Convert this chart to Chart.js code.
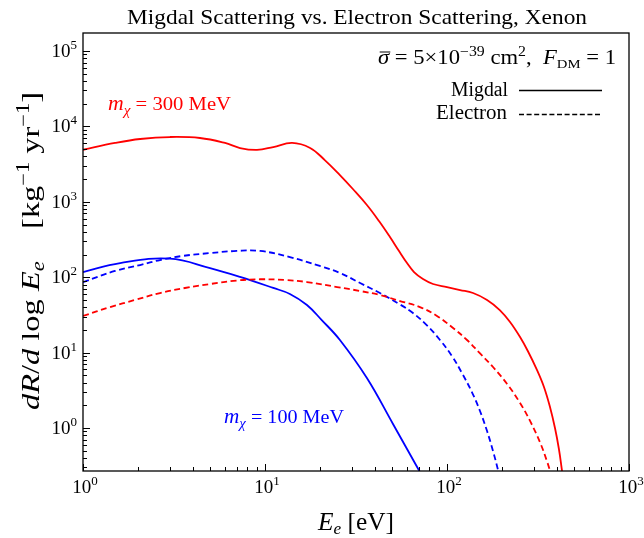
<!DOCTYPE html>
<html>
<head>
<meta charset="utf-8">
<script src="https://cdn.jsdelivr.net/npm/chart.js@4.4.1/dist/chart.umd.min.js"></script>
<style>
  html, body { margin: 0; padding: 0; background: #fff; }
  #wrap { width: 644px; height: 538px; }
</style>
</head>
<body>
<div id="wrap"><canvas id="c" width="644" height="538"></canvas></div>
<script>
// ===== data =====
// m_chi = 300 MeV, Migdal (solid red)
const E_MIG_300 = [1, 1.5, 2.06, 3, 4.39, 6.03, 7.29, 9.04, 11.1, 14.1, 17.7, 21.3, 25.8, 30.4, 36.3, 42.3, 48.6, 54.5, 60.3, 65.9, 73.8, 83.8, 100, 118, 139, 166, 195, 222, 252, 278, 312, 341, 368, 392, 412, 428, 440];
const R_MIG_300 = [4900, 6030, 6810, 7230, 7020, 6030, 5170, 4880, 5330, 6030, 5170, 3580, 2265, 1479, 907, 556, 341, 222, 154, 117, 94.6, 81.3, 74, 67.6, 61.7, 49.9, 36.7, 25.5, 16.1, 10.5, 5.9, 3.5, 1.9, 1.0, 0.527, 0.277, 0.17];

// m_chi = 300 MeV, electron (dashed red)
const E_ELE_300 = [1, 1.41, 1.93, 2.65, 3.63, 5, 7, 9.38, 12.9, 17, 24.9, 33.3, 42.8, 55.2, 71, 88.1, 108, 128.8, 151, 179, 214, 252, 286, 324, 354, 377];
const R_ELE_300 = [30.6, 40.2, 49.9, 61.7, 71.9, 81.3, 90.4, 93.9, 91.8, 86.3, 74.1, 65.6, 58, 48.3, 40.2, 30.6, 21.2, 14.7, 9.9, 6.44, 3.83, 2.15, 1.24, 0.65, 0.365, 0.224];

// m_chi = 100 MeV, Migdal (solid blue)
const E_MIG_100 = [1, 1.6, 3, 4.99, 7.29, 11.1, 13.7, 17, 20.5, 25.8, 36.3, 50.5, 70, 78.6];
const R_MIG_100 = [117, 154, 176, 132, 101, 72, 60, 42.8, 27, 14.7, 4.6, 1.13, 0.277, 0.17];

// m_chi = 100 MeV, electron (dashed blue)
const E_ELE_100 = [1, 1.5, 2.06, 2.65, 3.5, 5, 7, 9.38, 13.7, 20, 25.8, 33.3, 42.8, 55.2, 65, 77.6, 91.5, 106.5, 120.8, 137, 151.8, 166, 179, 190.7, 198];
const R_ELE_100 = [86, 121, 145, 169, 191, 209, 223, 223, 185, 141, 114, 83.7, 61.7, 43.5, 33.5, 23, 14.7, 9.0, 5.36, 3.0, 1.68, 0.91, 0.495, 0.277, 0.187];

const X_MIN = 1, X_MAX = 1000;
const Y_MIN = 0.269, Y_MAX = 1.733e5;
const X_DECADES = [0, 1, 2, 3];
const Y_DECADES = [0, 1, 2, 3, 4, 5];

const RED = "#ff0000";
const BLUE = "#0000ff";
const SERIF = "'Liberation Serif', 'DejaVu Serif', serif";

function pts(xs, ys) {
  return xs.map((x, i) => ({ x, y: ys[i] }));
}

function ds(label, xs, ys, color, dashed) {
  return {
    label,
    data: pts(xs, ys),
    borderColor: color,
    backgroundColor: "transparent",
    borderWidth: 1.8,
    borderDash: dashed ? [6, 3.5] : [],
    pointRadius: 0,
    tension: 0.4,
  };
}

// ===== rich text helper: runs = [text, style, size, dy, overline] =====
function font(style, size) {
  return (style === "i" ? "italic " : "") + size + "px " + SERIF;
}
function richWidth(ctx, runs) {
  let w = 0;
  runs.forEach(r => { ctx.font = font(r[1], r[2]); w += ctx.measureText(r[0]).width; });
  return w;
}
// targetW: stretch horizontally so the run fills that width (CM is wider than Times)
function drawRich(ctx, runs, x, y, align, targetW) {
  const w = richWidth(ctx, runs);
  const sx = targetW ? targetW / w : 1;
  const W = w * sx;
  let start = align === "right" ? x - W : align === "center" ? x - W / 2 : x;
  ctx.save();
  ctx.translate(start, y);
  ctx.scale(sx, 1);
  let cx = 0;
  runs.forEach(r => {
    ctx.font = font(r[1], r[2]);
    const tw = ctx.measureText(r[0]).width;
    ctx.fillText(r[0], cx, r[3] || 0);
    if (r[4]) {
      ctx.lineWidth = 1;
      ctx.beginPath();
      ctx.moveTo(cx + 1.5, -r[2] * 0.6);
      ctx.lineTo(cx + tw + 1, -r[2] * 0.6);
      ctx.stroke();
    }
    cx += tw;
  });
  ctx.restore();
}

const frame = {
  id: "frame",
  afterDraw(chart) {
    const ctx = chart.ctx;
    const a = chart.chartArea;
    const xs = chart.scales.x, ys = chart.scales.y;
    ctx.save();
    ctx.fillStyle = "#000";
    ctx.strokeStyle = "#000";
    ctx.textBaseline = "alphabetic";
    ctx.textAlign = "left";

    // box
    ctx.lineWidth = 1.3;
    ctx.strokeRect(a.left, a.top, a.right - a.left, a.bottom - a.top);

    // ticks (inward, left + bottom)
    ctx.lineWidth = 1;
    ctx.beginPath();
    X_DECADES.forEach(k => {
      for (let m = 1; m <= 9; m++) {
        const v = m * Math.pow(10, k);
        if (v < X_MIN || v > X_MAX) continue;
        const px = Math.round(xs.getPixelForValue(v)) + 0.5;
        const len = m === 1 ? 7 : 4;
        ctx.moveTo(px, a.bottom);
        ctx.lineTo(px, a.bottom - len);
      }
    });
    [-1].concat(Y_DECADES).forEach(k => {
      for (let m = 1; m <= 9; m++) {
        const v = m * Math.pow(10, k);
        if (v < Y_MIN || v > Y_MAX) continue;
        const py = Math.round(ys.getPixelForValue(v)) + 0.5;
        const len = m === 1 ? 7 : 4;
        ctx.moveTo(a.left, py);
        ctx.lineTo(a.left + len, py);
      }
    });
    ctx.stroke();

    // tick labels
    X_DECADES.forEach(k => {
      const px = xs.getPixelForValue(Math.pow(10, k));
      drawRich(ctx, [["10", "r", 19], [String(k), "r", 13, -8]], px + 2, a.bottom + 22, "center");
    });
    Y_DECADES.forEach(k => {
      const py = ys.getPixelForValue(Math.pow(10, k));
      drawRich(ctx, [["10", "r", 19], [String(k), "r", 13, -8]], a.left - 6, py + 6, "right");
    });

    // title
    drawRich(ctx, [["Migdal Scattering vs. Electron Scattering, Xenon", "r", 21]], 357, 24, "center", 460);

    // x axis label
    drawRich(ctx, [["E", "i", 25], ["e", "i", 17, 4], [" [eV]", "r", 25]], 356, 530, "center", 76);

    // y axis label (rotated)
    ctx.save();
    ctx.translate(39, 251);
    ctx.rotate(-Math.PI / 2);
    drawRich(ctx, [
      ["dR", "i", 26], ["/", "r", 26], ["d", "i", 26], [" log ", "r", 26],
      ["E", "i", 26], ["e", "i", 18, 5], ["    [kg", "r", 26], ["\u22121", "r", 18, -10],
      [" yr", "r", 26], ["\u22121", "r", 18, -10], ["]", "r", 26]
    ], 0, 0, "center", 318);
    ctx.restore();

    // cross-section annotation
    drawRich(ctx, [
      ["\u03c3", "i", 20, 0, true], [" = 5\u00d710", "r", 20], ["\u221239", "r", 14, -8],
      [" cm", "r", 20], ["2", "r", 14, -8], [",  ", "r", 20],
      ["F", "i", 20], ["DM", "r", 13, 4], [" = 1", "r", 20]
    ], 616, 64, "right", 238);

    // legend
    drawRich(ctx, [["Migdal", "r", 20]], 508, 96, "right", 57);
    drawRich(ctx, [["Electron", "r", 20]], 507, 119, "right", 71);
    ctx.lineWidth = 1.5;
    ctx.beginPath();
    ctx.moveTo(519, 90.5); ctx.lineTo(602, 90.5);
    ctx.stroke();
    ctx.setLineDash([5, 2.6]);
    ctx.beginPath();
    ctx.moveTo(519, 114.5); ctx.lineTo(602, 114.5);
    ctx.stroke();
    ctx.setLineDash([]);

    // mass labels
    ctx.fillStyle = RED;
    drawRich(ctx, [["m", "i", 20], ["\u03c7", "i", 14, 5], [" = 300 MeV", "r", 19]], 108, 110, "left", 123);
    ctx.fillStyle = BLUE;
    drawRich(ctx, [["m", "i", 20], ["\u03c7", "i", 14, 5], [" = 100 MeV", "r", 19]], 224, 423, "left", 120);

    ctx.restore();
  }
};

new Chart(document.getElementById("c"), {
  type: "line",
  data: {
    datasets: [
      ds("Migdal 300 MeV", E_MIG_300, R_MIG_300, RED, false),
      ds("Electron 300 MeV", E_ELE_300, R_ELE_300, RED, true),
      ds("Migdal 100 MeV", E_MIG_100, R_MIG_100, BLUE, false),
      ds("Electron 100 MeV", E_ELE_100, R_ELE_100, BLUE, true),
    ]
  },
  options: {
    responsive: false,
    animation: false,
    layout: { padding: { left: 83, top: 33, right: 15, bottom: 67 } },
    plugins: { legend: { display: false }, tooltip: { enabled: false }, title: { display: false } },
    scales: {
      x: { type: "logarithmic", min: X_MIN, max: X_MAX, display: false },
      y: { type: "logarithmic", min: Y_MIN, max: Y_MAX, display: false },
    }
  },
  plugins: [frame]
});
</script>
</body>
</html>
